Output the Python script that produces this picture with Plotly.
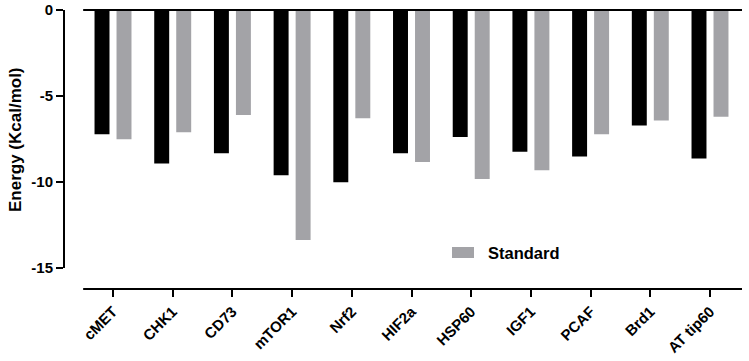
import plotly.graph_objects as go

categories = ["cMET", "CHK1", "CD73", "mTOR1", "Nrf2", "HIF2a", "HSP60",
              "IGF1", "PCAF", "Brd1", "AT tip60"]
compound_values = [-7.23, -8.92, -8.33, -9.61, -10.02, -8.33, -7.38,
                   -8.24, -8.51, -6.71, -8.63]
standard_values = [-7.52, -7.11, -6.10, -13.37, -6.30, -8.84, -9.82,
                   -9.32, -7.23, -6.43, -6.20]
y_ticks = [0, -5, -10, -15]

FONT = "Liberation Sans, Arial, sans-serif"
GREY = "#a3a3a7"
x_idx = list(range(len(categories)))

fig = go.Figure()
fig.add_trace(go.Bar(x=x_idx, y=compound_values, name="Compound",
                     marker=dict(color="#000000", line=dict(width=0)),
                     showlegend=False))
fig.add_trace(go.Bar(x=x_idx, y=standard_values, name="Standard",
                     marker=dict(color=GREY, line=dict(width=0)),
                     showlegend=False))

W, H = 749, 361
L, R, T, B = 64, 7, 8, 72
pw, ph = W - L - R, H - T - B


def px_x(p):  # page pixel -> paper x
    return (p - L) / pw


def px_y(p):  # page pixel -> paper y
    return (H - B - p) / ph


x_lo, x_hi = -0.821, 10.536
fig.update_layout(
    width=W, height=H,
    margin=dict(l=L, r=R, t=T, b=B),
    paper_bgcolor="white", plot_bgcolor="white",
    barmode="group", bargap=0.263, bargroupgap=0.32,
    font=dict(family=FONT, color="black"),
    showlegend=False,
    xaxis=dict(range=[x_lo, x_hi], tickmode="array", tickvals=x_idx,
               ticktext=["<b>%s</b>" % c for c in categories],
               tickangle=-45, ticks="outside", ticklen=7, tickwidth=2,
               tickcolor="black", showline=False, showgrid=False,
               zeroline=False, automargin=False,
               tickfont=dict(size=15, family=FONT)),
    yaxis=dict(range=[-16.22, 0.116], tickmode="array", tickvals=y_ticks,
               ticktext=["<b>%d</b>" % v for v in y_ticks],
               ticks="outside", ticklen=7, tickwidth=2, tickcolor="black",
               showline=False, showgrid=False, zeroline=False,
               automargin=False,
               tickfont=dict(size=15, family=FONT)),
    shapes=[
        # zero baseline
        dict(type="line", xref="x", yref="y", x0=-0.5, x1=x_hi, y0=0, y1=0,
             line=dict(color="black", width=2)),
        # x axis line (offset, bottom)
        dict(type="line", xref="x", yref="paper", x0=-0.5, x1=x_hi, y0=0, y1=0,
             line=dict(color="black", width=2)),
        # y axis line spanning 0..-15
        dict(type="line", xref="paper", yref="y", x0=0, x1=0, y0=-15, y1=0,
             line=dict(color="black", width=2)),
        # legend swatch
        dict(type="rect", xref="paper", yref="paper",
             x0=px_x(452), x1=px_x(474), y0=px_y(258), y1=px_y(247),
             fillcolor=GREY, line=dict(width=0)),
    ],
    annotations=[
        dict(text="<b>Standard</b>", xref="paper", yref="paper",
             x=px_x(486), y=px_y(252.5), xanchor="left", yanchor="middle",
             showarrow=False, font=dict(size=16.5, family=FONT)),
        dict(text="<b>Energy (Kcal/mol)</b>", xref="paper", yref="y",
             x=px_x(15), y=-7.5, xanchor="center", yanchor="middle",
             textangle=-90, showarrow=False,
             font=dict(size=17, family=FONT)),
    ],
)

fig.write_html("out.html", config={"displayModeBar": False},
               post_script="document.body.style.margin='0';"
                           "document.body.style.padding='0';")
